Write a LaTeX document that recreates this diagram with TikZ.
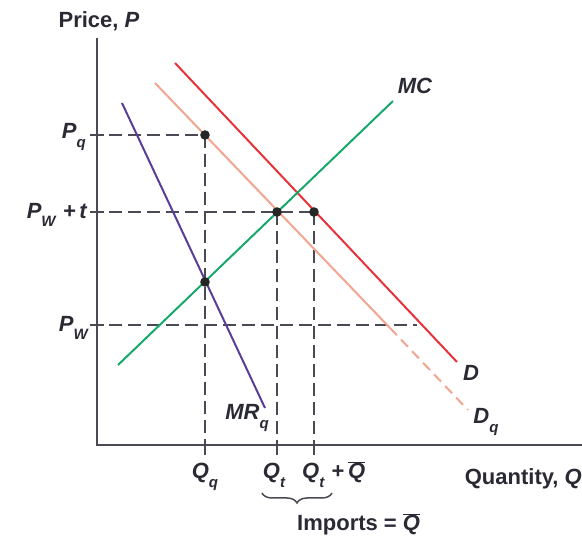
\documentclass[tikz,border=0pt]{standalone}
\usepackage{fontspec}
\setmainfont{Liberation Sans}
\usetikzlibrary{decorations.pathreplacing}
\definecolor{dred}{HTML}{E8323A}
\definecolor{salm}{HTML}{F2A590}
\definecolor{mcgreen}{HTML}{17A86B}
\definecolor{mrpurple}{HTML}{5A3D98}
\definecolor{axisgray}{HTML}{4A4A55}
\definecolor{txt}{HTML}{2A2A35}
\newcommand\lbsub[1]{\raisebox{-0.4em}{\fontsize{15}{15}\selectfont\bfseries\itshape #1}}
\newcommand\qbar{\ensuremath{\overline{\mbox{\bfseries\itshape Q}}}}
\begin{document}
\begin{tikzpicture}[x=1pt,y=-1pt,
  axis/.style={draw=axisgray,line width=2.6pt},
  curve/.style={line width=2pt},
  guide/.style={draw=axisgray,line width=1.7pt,dash pattern=on 13pt off 6pt},
  tickm/.style={draw=axisgray,line width=1.7pt},
  lbl/.style={font=\fontsize{22}{26}\selectfont\bfseries, text=txt, inner sep=0pt},
  ilbl/.style={lbl, font=\fontsize{22}{26}\selectfont\bfseries\itshape},
  blbl/.style={lbl, font=\fontsize{22}{26}\selectfont\bfseries\itshape}]
\useasboundingbox (0,0) rectangle (582,537);
% axes
\coordinate (ytop) at (97,38);
\coordinate (orig) at (97,445);
\coordinate (xend) at (582,445);
\draw[axis] (ytop) -- (orig) -- (xend);
% guide points
\coordinate (pq) at (205,135);
\coordinate (et) at (277,212);
\coordinate (dt) at (314,212);
\coordinate (mm) at (205,282);
\coordinate (ypq) at (90,135);
\coordinate (ypt) at (90,212);
\coordinate (ypw) at (90,325);
\coordinate (pwend) at (417,325);
\coordinate (xq) at (205,455);
\coordinate (xt) at (277,455);
\coordinate (xtq) at (314,455);
% dashed guides
\draw[guide] (ypq) -- (pq);
\draw[guide] (ypt) -- (dt);
\draw[guide] (ypw) -- (pwend);
\draw[guide] (pq) -- (xq);
\draw[guide] (et) -- (xt);
\draw[guide] (dt) -- (xtq);
% ticks
\foreach \yy in {135,212,325} \draw[tickm] (90,\yy) -- (104,\yy);
\foreach \xx in {205,277,314} \draw[tickm] (\xx,440) -- (\xx,455);
% curves
\coordinate (dqa) at (155,83);
\coordinate (dqb) at (390,328);
\coordinate (dqc) at (468,410);
\draw[curve,salm] (dqa) -- (dqb);
\draw[curve,salm,dash pattern=on 10pt off 6pt] (dqb) -- (dqc);
\coordinate (da) at (175,63);
\coordinate (db) at (457,362);
\draw[curve,dred] (da) -- (db);
\coordinate (mca) at (118,365);
\coordinate (mcb) at (393,101);
\draw[curve,mcgreen] (mca) -- (mcb);
\coordinate (mra) at (122,103);
\coordinate (mrb) at (265,408);
\draw[curve,mrpurple] (mra) -- (mrb);
% dots on top
\foreach \n in {pq,et,dt,mm} \fill[black!85] (\n) circle (4.8pt);
% labels
\node[lbl] (price) at (99,21) {Price, \textit{P}};
\node[blbl] (mc) at (415,86) {MC};
\node[ilbl,anchor=east] (lpq) at (86,137) {P\lbsub{q}};
\node[ilbl,anchor=east] (lpt) at (87,215) {P\lbsub{W}\,\,+\,t};
\node[ilbl,anchor=east] (lpw) at (88,328) {P\lbsub{W}};
\node[blbl] (mrl) at (247,418) {MR\lbsub{q}};
\node[blbl] (dl) at (471,373) {D};
\node[blbl] (dql) at (486,422) {D\lbsub{q}};
\node[ilbl,anchor=base] (lqq) at (205,479) {Q\lbsub{q}};
\node[ilbl,anchor=base] (lqt) at (274,479) {Q\lbsub{t}};
\node[ilbl,anchor=base west] (lqtq) at (302,479) {Q\lbsub{t}\,\,\upshape{+}\,\qbar};
\node[lbl,anchor=base east] (quant) at (582,485) {Quantity, \textit{Q}};
\coordinate (bra) at (262,493);
\coordinate (brb) at (332,493);
\draw[axisgray,line width=1.5pt,decorate,decoration={brace,amplitude=10pt,mirror}] (bra) -- (brb);
\node[lbl,anchor=base west] (imp) at (297,531) {Imports = \qbar};
\end{tikzpicture}
\end{document}
